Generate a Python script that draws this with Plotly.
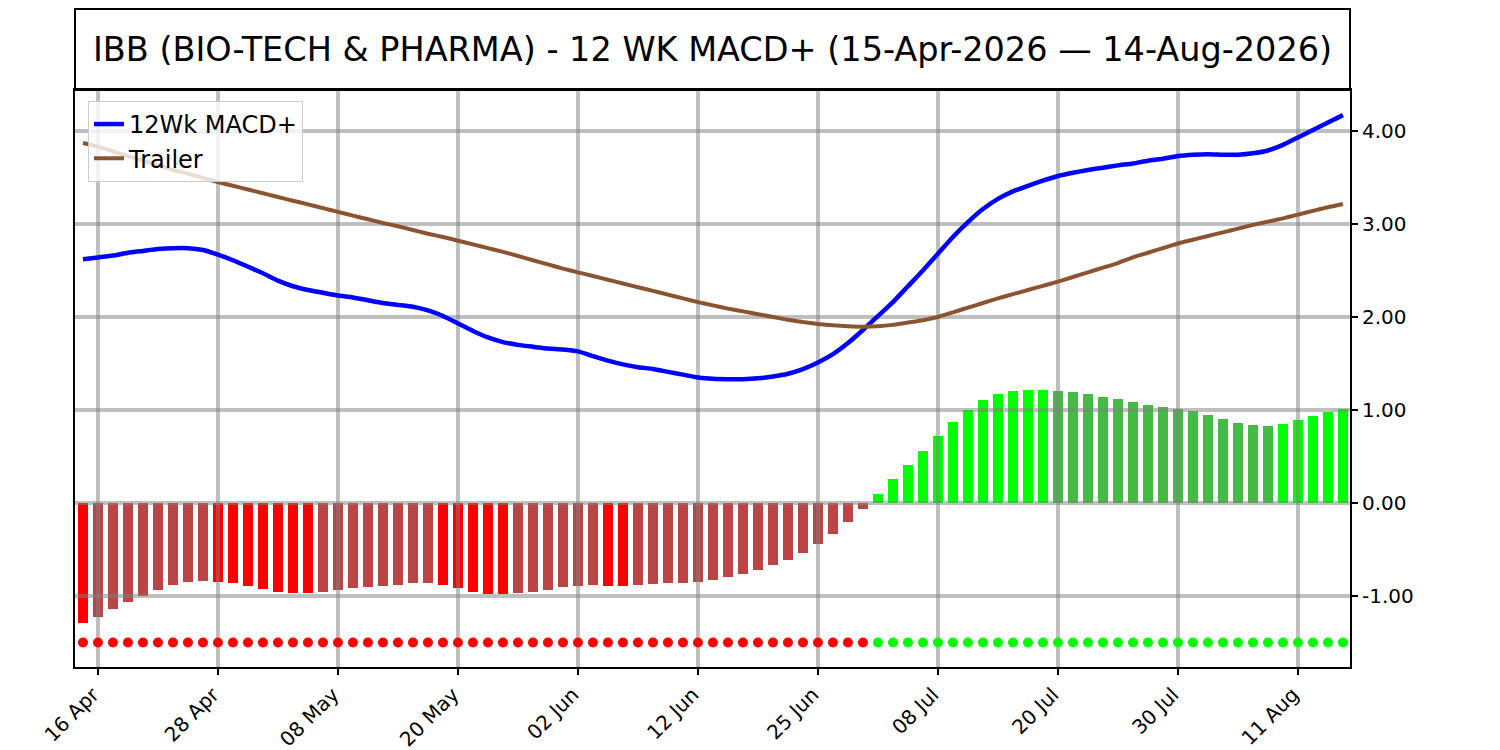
import pandas as pd
import plotly.graph_objects as go

# chart text
title_text = "IBB (BIO-TECH & PHARMA) - 12 WK MACD+ (15-Apr-2026 — 14-Aug-2026)"

# trading days (NYSE closed on these)
holidays = ["2026-05-25", "2026-06-19", "2026-07-03"]
dates = pd.bdate_range("2026-04-15", "2026-08-14", freq="C", holidays=holidays)

tick_labels = ["16 Apr", "28 Apr", "08 May", "20 May", "02 Jun", "12 Jun",
               "25 Jun", "08 Jul", "20 Jul", "30 Jul", "11 Aug"]
y_ticks = [-1, 0, 1, 2, 3, 4]

macd = [2.62, 2.64, 2.66, 2.69, 2.71, 2.73, 2.74, 2.74, 2.72, 2.67,
        2.61, 2.54, 2.47, 2.39, 2.33, 2.29, 2.26, 2.23, 2.21, 2.18,
        2.15, 2.13, 2.11, 2.07, 2.01, 1.93, 1.85, 1.78, 1.73, 1.70,
        1.68, 1.66, 1.65, 1.63, 1.58, 1.53, 1.49, 1.46, 1.44, 1.41,
        1.38, 1.35, 1.335, 1.33, 1.33, 1.34, 1.36, 1.39, 1.44, 1.51,
        1.60, 1.72, 1.86, 2.01, 2.16, 2.33, 2.50, 2.68, 2.86, 3.02,
        3.16, 3.27, 3.35, 3.41, 3.465, 3.515, 3.55, 3.58, 3.605, 3.63,
        3.65, 3.68, 3.70, 3.73, 3.745, 3.75, 3.745, 3.745, 3.76, 3.79,
        3.85, 3.93, 4.01, 4.09, 4.17]

trailer = [3.87, 3.83, 3.78, 3.73, 3.68, 3.63, 3.58, 3.54, 3.495, 3.45,
           3.41, 3.37, 3.33, 3.29, 3.25, 3.21, 3.17, 3.13, 3.09, 3.05,
           3.01, 2.975, 2.935, 2.895, 2.86, 2.82, 2.78, 2.74, 2.70, 2.655,
           2.61, 2.565, 2.52, 2.48, 2.44, 2.40, 2.36, 2.32, 2.28, 2.24,
           2.20, 2.16, 2.125, 2.09, 2.06, 2.03, 2.00, 1.97, 1.945, 1.925,
           1.91, 1.90, 1.895, 1.90, 1.915, 1.94, 1.965, 2.00, 2.05, 2.10,
           2.15, 2.20, 2.245, 2.29, 2.335, 2.38, 2.43, 2.48, 2.53, 2.58,
           2.64, 2.69, 2.74, 2.79, 2.83, 2.87, 2.91, 2.95, 2.99, 3.025,
           3.06, 3.10, 3.14, 3.18, 3.215]

hist = [-1.29, -1.226, -1.14, -1.068, -1.004, -0.939, -0.885, -0.853, -0.842, -0.845,
        -0.864, -0.896, -0.928, -0.961, -0.968, -0.972, -0.961, -0.939, -0.918, -0.907,
        -0.896, -0.885, -0.864, -0.862, -0.885, -0.918, -0.961, -0.975, -0.978, -0.971,
        -0.961, -0.939, -0.907, -0.887, -0.884, -0.893, -0.897, -0.885, -0.866, -0.862,
        -0.855, -0.852, -0.832, -0.799, -0.767, -0.724, -0.670, -0.616, -0.541, -0.444,
        -0.337, -0.208, -0.068, 0.094, 0.255, 0.406, 0.558, 0.719, 0.871, 1.0,
        1.108, 1.173, 1.205, 1.214, 1.218, 1.205, 1.194, 1.173, 1.14, 1.119,
        1.086, 1.054, 1.032, 1.011, 0.989, 0.946, 0.903, 0.860, 0.838, 0.827,
        0.849, 0.892, 0.935, 0.978, 1.011]

signal_level = -1.5

RED, DULL_RED = "#ff0000", "#bb4444"
GREEN, DULL_GREEN = "#00ff00", "#44bb44"
GRID = "rgba(128,128,128,0.5)"
FONT = "DejaVu Sans"

x = list(range(len(dates)))
day_labels = [d.strftime("%d %b") for d in dates]
tick_pos = [day_labels.index(t) for t in tick_labels]
y_text = [f"{v:.2f}" for v in y_ticks]

# bright when the histogram grows away from zero, dull when it shrinks
bar_colors = []
prev = 0
for h in hist:
    if h < 0:
        bar_colors.append(RED if h < prev else DULL_RED)
    else:
        bar_colors.append(GREEN if h > prev else DULL_GREEN)
    prev = h
dot_colors = [RED if h < 0 else GREEN for h in hist]

x_range = [-0.53, 84.47]
y_range = [-1.763, 4.44]

fig = go.Figure()
# bars sit on their own subplot so that the grid of the second one is drawn over them
fig.add_trace(go.Bar(x=x, y=hist, width=0.7, marker=dict(color=bar_colors, line_width=0),
                     showlegend=False, xaxis="x", yaxis="y"))
fig.add_trace(go.Scatter(x=x, y=macd, mode="lines", name="12Wk MACD+",
                         line=dict(color="#0000ff", width=4.5, shape="spline", smoothing=0.5),
                         xaxis="x2", yaxis="y2"))
fig.add_trace(go.Scatter(x=x, y=trailer, mode="lines", name="Trailer",
                         line=dict(color="#8b5430", width=4, shape="spline", smoothing=0.5),
                         xaxis="x2", yaxis="y2"))
fig.add_trace(go.Scatter(x=x, y=[signal_level] * len(x), mode="markers",
                         marker=dict(color=dot_colors, size=10), showlegend=False,
                         xaxis="x2", yaxis="y2"))

# page body has an 8px margin, so the figure is 8px smaller and shifted
fig.update_layout(
    width=1492, height=742,
    margin=dict(l=67, r=150, t=82, b=83, autoexpand=False),
    paper_bgcolor="white", plot_bgcolor="rgba(0,0,0,0)",
    font=dict(family=FONT, color="black"),
    title=dict(text=title_text, xref="paper", x=0.5, xanchor="center", y=1 - 41 / 742,
               yanchor="middle", font=dict(size=33.5)),
    bargap=0,
    xaxis=dict(range=x_range, visible=False, anchor="y"),
    yaxis=dict(range=y_range, visible=False, anchor="x"),
    xaxis2=dict(range=x_range, anchor="y2", tickvals=tick_pos, ticktext=tick_labels,
                tickangle=-45, tickfont=dict(size=20), ticklabelshift=-5,
                showgrid=True, gridcolor=GRID,
                gridwidth=4, zeroline=False, showline=True, mirror=True, automargin=False,
                linecolor="black", linewidth=2, ticks="outside", ticklen=6,
                tickwidth=1.5, tickcolor="black"),
    yaxis2=dict(range=y_range, anchor="x2", side="right", tickvals=y_ticks,
                ticktext=y_text, tickfont=dict(size=20), showgrid=True, gridcolor=GRID,
                gridwidth=4, zeroline=False, showline=True, mirror=True, automargin=False,
                linecolor="black", linewidth=2, ticks="outside", ticklen=6,
                tickwidth=1.5, tickcolor="black"),
    legend=dict(x=0.0102, y=0.981, xanchor="left", yanchor="top",
                bgcolor="rgba(255,255,255,0.8)", bordercolor="#cccccc", borderwidth=1,
                font=dict(size=24), tracegroupgap=0),
    shapes=[dict(type="rect", xref="paper", yref="paper", x0=0, x1=1, y0=1,
                 y1=1 + 81 / 577, line=dict(color="black", width=2))],
)

fig.write_html("out.html")
